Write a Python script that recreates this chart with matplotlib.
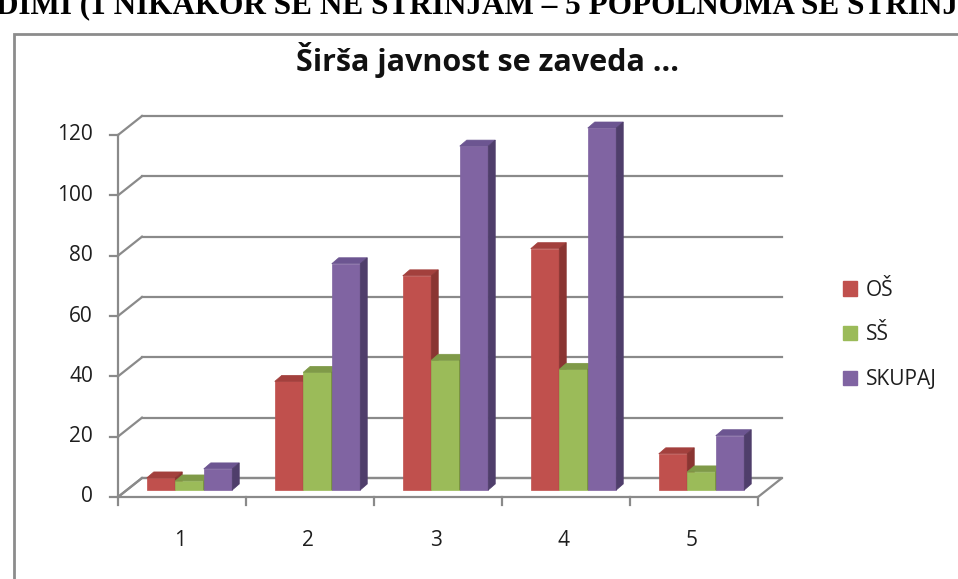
import numpy as np
import matplotlib.pyplot as plt
from matplotlib.patches import Polygon, Rectangle, Patch

# data
categories = ['1', '2', '3', '4', '5']
series_names = ['OŠ', 'SŠ', 'SKUPAJ']
os_vals = [4, 36, 71, 80, 12]
ss_vals = [3, 39, 43, 40, 6]
skupaj_vals = [7, 75, 114, 120, 18]
yticks = [0, 20, 40, 60, 80, 100, 120]

front = ['#C0504D', '#9BBB59', '#8064A2']
top = ['#A3403D', '#7F9A48', '#6C5591']
side = ['#8A3532', '#6C8438', '#4F3E6B']

W, H = 958, 579
fig = plt.figure(figsize=(W / 100, H / 100), dpi=100)
plt.rcParams['font.family'] = ['Open Sans', 'DejaVu Sans']

# axes placed in pixels, so x: 128 px per category, y: ~3 px per unit
L, R, B, T = 100, 800, 520, 110
ax = fig.add_axes([L / W, (H - B) / H, (R - L) / W, (B - T) / H])
px_x = 128.0
px_y = (497 - 135) / 120.0
ax.set_xlim(0.5 - (118 - L) / px_x, 0.5 + (R - 118) / px_x)
ax.set_ylim(-(B - 497) / px_y, (497 - T) / px_y)
ax.axis('off')

x = np.arange(1, len(categories) + 1)
x0, x1 = 0.5, len(categories) + 0.5
wdx, wdy = 24 / px_x, 19 / px_y     # back wall offset
bdx, bdy = 7.5 / px_x, 7 / px_y     # bar front offset
ddx, ddy = 7 / px_x, 6 / px_y       # bar depth
grid_c = '#8A8A8A'
txt_c = '#1E1E1E'

# floor
ax.add_patch(Polygon([(x0, 0), (x1, 0), (x1 + wdx, wdy), (x0 + wdx, wdy)],
                     closed=True, fc='white', ec=grid_c, lw=1.6, zorder=1))
# back wall grid + diagonals
for v in yticks:
    ax.plot([x0 + wdx, x1 + wdx], [v + wdy, v + wdy], color=grid_c, lw=1.6, zorder=1)
    ax.plot([x0, x0 + wdx], [v, v + wdy], color=grid_c, lw=1.6, zorder=1)
    ax.plot([x0 - 8 / px_x, x0], [v, v], color=grid_c, lw=1.6, zorder=1)
    ax.text(x0 - 25 / px_x, v, str(v), ha='right', va='center', fontsize=15, color=txt_c)
ax.plot([x0, x0], [0, yticks[-1]], color=grid_c, lw=1.6, zorder=1)

# x axis ticks and labels
for b in np.arange(x0, x1 + 0.01, 1.0):
    ax.plot([b, b], [0, -8 / px_y], color=grid_c, lw=1.6, zorder=1)
for xi, c in zip(x, categories):
    ax.text(xi - 2 / px_x, -44 / px_y, c, ha='center', va='center', fontsize=15, color=txt_c)

# 3D-looking bars
bw = 28.5 / px_x
series = [os_vals, ss_vals, skupaj_vals]
z = 3
for i in range(len(categories)):
    for j, vals in enumerate(series):
        v = vals[i]
        left = x[i] + bdx + (j - 1.5) * bw
        ax.bar(left, v, width=bw, bottom=bdy, align='edge', color=front[j],
               edgecolor=front[j], lw=0.5, zorder=z)
        ax.add_patch(Polygon([(left, bdy + v), (left + bw, bdy + v),
                              (left + bw + ddx, bdy + v + ddy), (left + ddx, bdy + v + ddy)],
                             closed=True, fc=top[j], ec=top[j], lw=0.5, zorder=z))
        ax.add_patch(Polygon([(left + bw, bdy), (left + bw, bdy + v),
                              (left + bw + ddx, bdy + v + ddy), (left + bw + ddx, bdy + ddy)],
                             closed=True, fc=side[j], ec=side[j], lw=0.5, zorder=z))
        z += 1

# title
fig.text(487 / W, 1 - 60 / H, 'Širša javnost se zaveda ...', ha='center', va='center',
         fontsize=22, fontweight='bold', color='#111111')

# legend
handles = [Patch(fc=c, ec=c) for c in front]
fig.legend(handles, series_names, loc='center left', bbox_to_anchor=(824 / W, 1 - 335 / H),
           frameon=False, fontsize=15, handlelength=0.7, handleheight=0.7,
           handletextpad=0.4, labelspacing=1.15, labelcolor=txt_c)

# chart frame
fig.patches.append(Rectangle((14 / W, -0.05), 1.0, 1 - 34 / H + 0.05, transform=fig.transFigure,
                             fill=False, ec='#8C8C8C', lw=2))

# heading of the page, cut off at the top
fig.text(-4 / W, 1 - 13 / H, 'DIMI (1 NIKAKOR SE NE STRINJAM – 5 POPOLNOMA SE STRINJAM)',
         ha='left', va='baseline', fontsize=22.5, fontweight='bold',
         family='Liberation Serif', color='black')

fig.savefig('out.png', dpi=100)
